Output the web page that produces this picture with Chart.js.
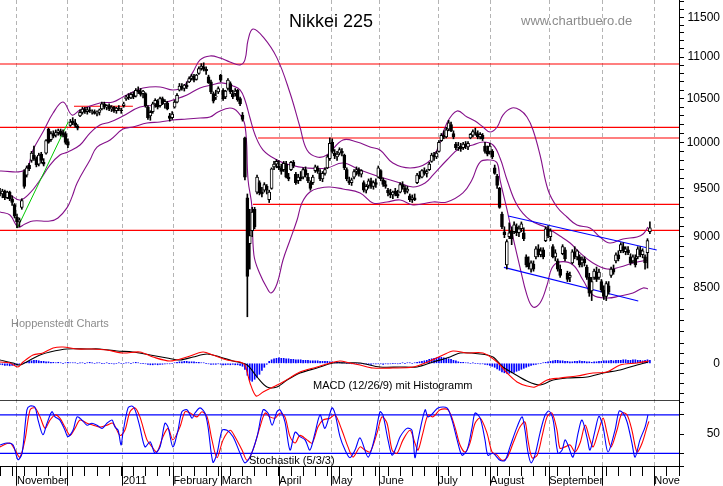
<!DOCTYPE html>
<html>
<head>
<meta charset="utf-8">
<script src="https://cdn.jsdelivr.net/npm/chart.js@4"></script>
<style>
  html, body { margin: 0; padding: 0; background: #fff; }
  canvas { display: block; }
</style>
</head>
<body>
<canvas id="chart" width="723" height="486"></canvas>
<script>
// daily candles, Oct 2010 - Oct 2011 (index = trading day)
const opens = [
  9460,9440,9470,9400,9460,9390,9330,9200,9150,9300,
  9680,9640,9750,9800,9860,9820,9760,9870,9780,9880,
  10150,10030,10100,10080,10110,10130,10110,10100,10010,10190,
  10240,10220,10180,10300,10340,10380,10350,10370,10340,10350,
  10330,10340,10380,10440,10400,10420,10380,10400,10360,10390,
  10370,10420,10500,10520,10510,10550,10530,10600,10580,10560,
  10560,10400,10300,10350,10440,10470,10420,10500,10440,10450,
  10300,10280,10400,10460,10600,10650,10620,10660,10700,10740,
  10770,10730,10800,10860,10880,10850,10760,10700,10560,10520,
  10580,10780,10600,10520,10620,10680,10560,10560,10600,10500,
  10310,10050,9400,8930,9060,9280,9460,9560,9460,9480,
  9520,9380,9500,9730,9760,9740,9720,9700,9760,9620,
  9700,9780,9650,9580,9620,9620,9700,9620,9560,9560,
  9690,9720,9660,9600,9660,9720,9820,10000,9880,9840,
  9880,9900,9860,9700,9580,9560,9620,9680,9700,9650,
  9560,9480,9530,9580,9520,9560,9620,9690,9590,9540,
  9480,9450,9430,9470,9440,9460,9540,9500,9470,9420,
  9380,9400,9560,9640,9620,9690,9660,9700,9790,9860,
  9840,9900,10020,10080,10060,10150,10200,10100,9980,9950,
  9960,9940,9980,9950,10050,10080,10110,10100,10060,10080,
  9960,9900,9900,9900,9720,9630,9500,9230,9050,8720,
  9000,9060,9050,9100,9040,9080,9040,8800,8740,8680,
  8730,8800,8880,8820,8870,8960,9080,9000,8900,8800,
  8760,8680,8830,8870,8640,8600,8740,8850,8800,8800,
  8740,8780,8700,8600,8470,8600,8650,8600,8560,8480,
  8420,8520,8620,8680,8760,8820,8860,8900,8850,8870,
  8800,8760,8790,8800,8870,8820,8800,8840,9050
];
const highs = [
  9500,9490,9480,9470,9470,9420,9340,9230,9190,9390,
  9700,9740,9770,9900,9960,9840,9880,9890,9820,10030,
  10160,10120,10130,10140,10150,10150,10140,10120,10040,10260,
  10280,10260,10200,10370,10400,10400,10400,10400,10370,10370,
  10360,10380,10460,10460,10430,10440,10420,10410,10400,10420,
  10390,10460,10540,10560,10570,10580,10620,10640,10620,10600,
  10570,10420,10360,10460,10500,10490,10520,10520,10490,10470,
  10330,10350,10480,10560,10680,10680,10670,10700,10760,10790,
  10790,10790,10880,10920,10930,10880,10780,10720,10580,10600,
  10640,10790,10620,10600,10740,10700,10600,10620,10610,10520,
  10340,10060,9440,9280,9300,9300,9640,9580,9510,9560,
  9540,9480,9720,9790,9810,9800,9760,9790,9790,9660,
  9790,9800,9670,9650,9680,9720,9730,9660,9580,9640,
  9750,9740,9700,9680,9720,9860,10050,10040,9920,9900,
  9940,9930,9870,9720,9620,9610,9700,9730,9720,9700,
  9580,9540,9600,9610,9580,9600,9740,9700,9610,9580,
  9500,9490,9470,9500,9480,9560,9570,9530,9520,9440,
  9430,9440,9660,9680,9700,9720,9700,9780,9880,9890,
  9900,10020,10100,10130,10170,10250,10230,10130,10000,10000,
  9990,10000,10010,10010,10100,10140,10160,10130,10110,10100,
  10000,9960,9990,9920,9750,9650,9510,9250,9100,8970,
  9140,9100,9150,9130,9110,9150,9090,8820,8800,8760,
  8760,8900,8920,8890,8890,9100,9110,9080,8920,8870,
  8780,8720,8920,8890,8660,8650,8870,8900,8870,8820,
  8800,8800,8720,8640,8600,8680,8700,8680,8580,8520,
  8560,8560,8700,8720,8840,8860,8940,8940,8900,8900,
  8830,8820,8820,8900,8900,8880,8820,8980,9150
];
const lows = [
  9420,9400,9380,9390,9370,9320,9190,9090,9100,9280,
  9500,9620,9690,9780,9800,9730,9740,9770,9740,9870,
  9990,10010,10050,10060,10080,10070,10060,9980,9940,10180,
  10200,10170,10140,10290,10320,10330,10320,10340,10320,10320,
  10300,10310,10370,10380,10370,10360,10350,10340,10330,10360,
  10330,10400,10480,10490,10500,10500,10520,10560,10530,10510,
  10400,10260,10250,10330,10400,10380,10400,10430,10390,10370,
  10240,10260,10390,10450,10590,10600,10590,10620,10690,10720,
  10700,10720,10790,10840,10830,10790,10680,10560,10450,10490,
  10560,10700,10480,10500,10600,10560,10500,10530,10470,10420,
  10240,9590,8230,8680,9000,9080,9440,9430,9410,9460,
  9440,9350,9490,9700,9720,9700,9650,9680,9610,9580,
  9690,9720,9540,9550,9580,9600,9620,9560,9480,9540,
  9670,9660,9580,9570,9640,9710,9800,9880,9820,9800,
  9860,9850,9700,9580,9540,9530,9600,9640,9630,9620,
  9460,9450,9500,9500,9490,9510,9610,9580,9520,9500,
  9420,9400,9390,9420,9400,9450,9490,9440,9450,9360,
  9350,9370,9550,9600,9610,9640,9620,9690,9780,9800,
  9820,9890,10010,10040,10050,10130,10120,10040,9920,9910,
  9900,9920,9930,9920,10040,10060,10080,10040,10040,10020,
  9880,9850,9870,9820,9650,9500,9290,9080,8990,8680,
  8980,8920,9030,9010,9000,9050,8960,8700,8680,8650,
  8660,8780,8800,8800,8780,8950,8990,8960,8790,8760,
  8660,8600,8820,8760,8560,8560,8730,8780,8770,8700,
  8700,8710,8580,8420,8380,8580,8560,8580,8460,8390,
  8380,8440,8600,8630,8740,8760,8840,8840,8820,8820,
  8720,8740,8700,8780,8800,8790,8680,8690,9030
];
const closes = [
  9440,9470,9400,9460,9390,9350,9210,9150,9170,9370,
  9520,9720,9710,9880,9820,9750,9860,9800,9760,10020,
  10000,10100,10070,10110,10130,10090,10080,10000,9970,10230,
  10220,10190,10160,10340,10380,10350,10370,10360,10350,10330,
  10340,10370,10440,10400,10420,10380,10400,10360,10390,10380,
  10360,10440,10520,10510,10550,10520,10600,10580,10550,10590,
  10420,10280,10340,10440,10480,10400,10500,10450,10470,10380,
  10270,10320,10460,10540,10650,10620,10660,10640,10740,10770,
  10720,10780,10860,10890,10850,10830,10690,10580,10470,10530,
  10620,10720,10500,10590,10720,10580,10520,10590,10490,10440,
  10260,9620,8610,9010,9250,9100,9620,9450,9440,9540,
  9480,9460,9710,9760,9790,9720,9680,9770,9620,9600,
  9780,9740,9560,9620,9600,9700,9640,9580,9500,9620,
  9730,9680,9600,9660,9700,9840,9990,9900,9850,9870,
  9920,9880,9720,9600,9560,9590,9680,9700,9650,9690,
  9480,9520,9580,9520,9560,9540,9720,9600,9540,9520,
  9450,9430,9460,9440,9420,9540,9510,9460,9490,9380,
  9400,9380,9640,9620,9690,9660,9680,9760,9860,9840,
  9880,10000,10080,10060,10140,10220,10130,10060,9940,9960,
  9930,9980,9960,9990,10090,10120,10100,10060,10090,10040,
  9900,9870,9960,9840,9660,9530,9300,9100,9020,8950,
  9040,8980,9120,9040,9080,9130,8980,8720,8700,8740,
  8680,8880,8820,8860,8800,9080,9010,9060,8800,8840,
  8680,8620,8900,8780,8580,8620,8850,8800,8860,8720,
  8770,8740,8600,8450,8560,8660,8580,8650,8480,8420,
  8540,8460,8680,8650,8820,8780,8920,8860,8880,8840,
  8740,8800,8720,8880,8820,8860,8740,8960,9090
];

// Bollinger bands: [day, price]
const bandUpper = [
  [0,9685],[10.3,9696],[13.6,9915],[17.7,10116],[21.9,10333],[26,10461],[29.7,10310],
  [33,10368],[41.2,10450],[46.6,10461],[50.7,10520],[54.8,10580],[59,10627],[66,10639],
  [71.3,10603],[75.5,10639],[79.6,10819],[82.5,10965],[86.6,11014],[90.7,10990],
  [94.8,10940],[99,10904],[101,10965],[102.3,11212],[104.3,11350],[108.5,11250],
  [114.2,10990],[119.6,10567],[123.7,10173],[126.6,9915],[130.7,9838],[134.8,9860],
  [141.4,10027],[147.2,10004],[152.6,9948],[156.7,9915],[162,9772],[169.1,9718],
  [176.1,9772],[180.2,9915],[184.3,10219],[188.5,10357],[192.6,10287],[195.9,10241],
  [199.2,10173],[202.1,10116],[205,10173],[207.4,10310],[211.1,10391],[214.4,10368],
  [217.3,10287],[219.8,10139],[222.7,9860],[226,9482],[229.7,9304],[233.8,9200],
  [237.9,9118],[243.3,9088],[247.4,8997],[251.5,8937],[256.9,8977],[262.7,8997],
  [265.2,9027],[267.2,9098]
];
const bandMid = [
  [0,9451],[4.1,9430],[8.2,9377],[12.4,9451],[16.5,9589],[20.6,9750],[24.7,9860],
  [28,9893],[33,9971],[37.1,10105],[41.2,10195],[45.4,10230],[50.7,10299],[57.7,10403],
  [64.7,10427],[71.3,10485],[77.1,10544],[82.5,10627],[87.4,10663],[91.5,10687],
  [96.1,10651],[99,10603],[101,10485],[103.1,10276],[105.2,10083],[108.5,9915],
  [114.2,9805],[119.6,9750],[126.6,9718],[134.8,9718],[141.4,9772],[148.5,9696],
  [156.7,9621],[163.7,9568],[170.3,9514],[175.3,9557],[178.6,9643],[184.3,9805],
  [189.7,9937],[195,9971],[199.2,10004],[203.3,9971],[206.2,9827],[209.1,9589],
  [213.2,9325],[218.6,9169],[225.6,9088],[230.9,9007],[235.1,8937],[239.2,8838],
  [244.5,8740],[250.3,8681],[255.7,8700],[261,8740],[267.2,8769]
];
const bandLower = [
  [0,9252],[4.1,9221],[7.4,9098],[10.3,9128],[13.6,9159],[20.6,9159],[23.9,9190],
  [27.6,9294],[29.7,9409],[31.8,9557],[37.1,9805],[40,9948],[45.4,10027],[50.7,10150],
  [54.8,10173],[60.6,10219],[66,10230],[71.3,10253],[77.1,10264],[82.5,10276],
  [86.6,10287],[89.9,10345],[94.8,10391],[98.1,10345],[101,10196],[102.3,9589],
  [103.9,9304],[104.7,8818],[107.2,8632],[110.1,8499],[111.8,8452],[114.2,8537],
  [116.7,8769],[119.6,8967],[122.5,9169],[124.5,9346],[127.8,9461],[132,9504],
  [136.1,9514],[141.4,9493],[148.5,9451],[153.8,9346],[159.6,9356],[165,9377],
  [170.3,9325],[178.6,9356],[184.3,9356],[190.9,9451],[194.6,9589],[198,9783],
  [202.1,9805],[205,9772],[206.2,9589],[209.1,9273],[211.5,8997],[214.4,8700],
  [217.3,8432],[219.8,8320],[222.7,8357],[225.6,8527],[227.6,8690],[230.9,8750],
  [236.3,8720],[240.4,8575],[244.5,8432],[250.3,8404],[255.7,8423],[261,8452],
  [265.2,8499],[267.2,8490]
];

// support / resistance lines: [fromDay, toDay, price]
const redLevels = [
  [0, 280, 10915], [0, 280, 10169], [106.4, 280, 10049],
  [104.3, 280, 9331], [0, 280, 9064], [30.5, 54.8, 10412]
];
const channelTop = [[209.6, 9210], [270.8, 8867]];
const channelBottom = [[207.8, 8697], [263.2, 8376]];
const greenTrend = [[7.1, 9085], [28.2, 10234]];

// MACD (12/26/9): [day, value]
const macdLine = [
  [0,13],[4.1,3],[7.4,-37],[9.5,13],[13.6,83],[17.7,103],[21.9,153],[26,163],[31.8,143],
  [38.4,143],[44.1,133],[50.7,103],[57.7,113],[63.1,63],[70.1,23],[77.1,63],[83.7,113],
  [87.8,83],[93.6,33],[99,13],[101,-17],[103.1,-197],[105.6,-327],[108.5,-287],
  [112.6,-237],[116.7,-187],[123.7,-87],[130.7,-37],[136.1,3],[140.2,23],[144.3,3],
  [148.5,-17],[153.8,-47],[162,-47],[170.3,-37],[177.3,23],[182.7,83],[186.8,123],
  [192.6,103],[199.2,103],[205,13],[209.1,-97],[213.2,-187],[217.3,-227],[220.6,-237],
  [225.6,-167],[230.9,-147],[237.9,-127],[244.5,-97],[250.3,-87],[255.7,-17],
  [262.7,3],[267.6,23]
];
const macdSignal = [
  [0,33],[5.4,3],[8.2,-17],[12.4,33],[16.5,83],[20.6,113],[27.6,143],[35.9,143],
  [41.2,143],[48.2,123],[54.8,113],[61.9,83],[68.9,53],[74.2,33],[79.6,63],[85.4,93],
  [90.7,63],[96.1,23],[101.9,-17],[106,-137],[110.1,-237],[114.2,-237],[118.4,-167],
  [123.7,-97],[130.7,-47],[137.3,3],[143.1,3],[148.5,3],[156.7,-37],[165,-37],[172,-37],
  [178.6,13],[185.6,63],[189.7,103],[198,93],[203.3,63],[207.4,-37],[211.5,-97],
  [217.3,-177],[222.7,-217],[228.1,-167],[233.8,-147],[242.1,-137],[248.7,-97],
  [255.7,-67],[262.7,-17],[267.2,13]
];
const macdHist = [
  -10,-15,-20,-20,-25,-20,-20,-15,-10,-5,
  5,10,20,25,30,30,25,20,20,15,
  15,10,10,5,10,5,0,5,10,5,
  5,5,0,5,5,0,5,10,5,0,
  5,5,0,0,5,0,0,-5,0,5,
  0,0,5,5,0,5,10,5,0,0,
  -5,-10,-15,-15,-10,-15,-10,-10,-5,-5,
  -5,0,5,10,15,15,20,20,15,15,
  15,10,10,5,5,0,-5,-10,-10,-10,
  -5,-10,-15,-15,-10,-15,-10,-15,-15,-20,
  -30,-60,-120,-170,-180,-160,-140,-110,-70,-40,
  -10,20,35,45,50,55,50,50,45,45,
  40,40,35,35,35,30,30,30,25,25,
  25,25,20,20,20,20,15,15,10,10,
  10,5,5,0,0,-5,0,-5,-5,0,
  -5,-5,-10,-10,-5,-5,-5,-5,-10,-5,
  -5,-5,0,0,-5,0,5,0,5,5,
  0,5,10,15,20,25,30,40,45,50,
  55,60,60,55,50,45,40,30,25,15,
  10,10,5,5,0,5,0,0,-5,-5,
  -10,-15,-20,-30,-40,-55,-70,-85,-95,-100,
  -100,-95,-90,-80,-70,-60,-50,-40,-30,-20,
  -15,-10,-5,0,5,10,15,20,25,30,
  30,25,25,20,20,15,15,20,20,25,
  20,20,15,15,10,15,15,20,20,25,
  25,25,30,25,30,30,30,35,35,30,
  30,35,35,30,30,25,30,35,30
];

// Stochastik (5/3/3): [day, value]
const stochK = [
  [0,33],[2.9,36],[5.4,33],[7.4,10],[9.1,20],[11.1,88],[12.4,94],[14.4,92],[15.7,72],
  [17.7,49],[19.4,67],[21.4,85],[22.7,77],[24.7,72],[26.8,56],[28,46],[30.1,56],[31.8,77],
  [33.8,72],[35.9,64],[37.9,67],[40,64],[42.1,59],[44.1,67],[46.2,72],[47.4,61],[48.7,56],
  [49.9,33],[50.7,52],[52.8,91],[54.4,94],[55.7,88],[57.7,61],[59.8,30],[61.9,38],[63.9,20],
  [66,30],[68,67],[69.3,61],[71.3,30],[73.4,56],[75,85],[77.1,88],[79.2,75],[80.4,83],
  [82.5,91],[84.5,83],[85.8,61],[87.8,6],[89.5,20],[91.6,56],[93.6,56],[96.1,46],[99,20],
  [101,5],[103.1,14],[106,46],[108.5,88],[110.5,83],[112.2,64],[114.2,85],[115.5,88],
  [117.5,69],[119.6,25],[121.7,53],[123.7,46],[125.8,41],[127.8,25],[129.9,52],[132,80],
  [134,59],[136.9,91],[138.1,83],[140.2,46],[142.3,25],[144.3,13],[146.4,25],[148.5,44],
  [151.8,14],[154.6,46],[156.7,85],[157.9,80],[160,41],[161.7,17],[163.7,33],[165,46],
  [167.8,59],[169.9,56],[171.1,13],[172.4,41],[175.3,88],[176.5,77],[178.6,83],[180.6,91],
  [184.3,91],[186.4,72],[188.5,41],[190.5,17],[192.6,25],[194.7,61],[195.9,83],[198,75],
  [200,41],[201.2,17],[203.3,20],[206.2,9],[208.3,9],[210.3,30],[213.2,61],[215.3,77],
  [216.5,56],[217.7,22],[219,5],[220.6,17],[222.7,52],[224.8,80],[226.4,86],[228.1,72],
  [230.1,20],[231.8,25],[233,41],[234.2,33],[236.3,14],[238.4,52],[240,72],[242.1,44],
  [243.3,25],[245.4,56],[247,78],[248.7,61],[250.7,22],[253.6,56],[255.3,86],[256.9,83],
  [258.6,69],[260.6,36],[261.9,14],[263.9,41],[266,61],[267.2,80]
];
const stochD = [
  [0,30],[4.1,36],[6.2,25],[8.2,14],[10.3,41],[12.4,88],[14.4,91],[16.5,77],[18.6,59],
  [20.6,72],[22.7,80],[24.7,75],[26.8,61],[28.9,48],[30.9,59],[33,72],[35.9,67],[38.4,64],
  [41.2,61],[44.1,64],[46.6,67],[49.5,48],[51.5,56],[53.6,85],[55.7,91],[57.7,77],[60.6,41],
  [62.7,30],[64.7,22],[67.2,46],[69.3,59],[71.3,41],[74.2,61],[76.3,85],[78.4,83],[81.2,77],
  [83.3,85],[85.4,77],[87.4,41],[89.5,13],[92,41],[94.9,56],[96.9,46],[99.8,25],[101.9,9],
  [104.3,25],[107.2,61],[109.3,83],[111.3,77],[113.4,75],[115.5,83],[117.5,77],[119.6,46],
  [121.7,36],[123.7,48],[126.6,41],[128.7,36],[131.1,61],[133.2,72],[136.1,75],[138.2,80],
  [141,56],[143.5,30],[145.6,14],[148.5,30],[150.5,25],[152.6,22],[155.5,52],[157.5,77],
  [159.6,67],[161.7,25],[163.7,20],[166.2,41],[169.1,56],[171.1,36],[172.4,25],[174.4,52],
  [176.5,80],[178.6,77],[181.5,88],[184.8,88],[187.6,61],[189.7,33],[191.8,22],[193.8,36],
  [195.9,67],[198,75],[200.8,52],[202.9,22],[205,17],[207,9],[209.1,13],[211.6,36],
  [214.4,61],[216.5,69],[217.7,41],[219.4,13],[221.5,17],[223.5,46],[225.6,77],[227.6,83],
  [229.7,56],[230.9,28],[233,30],[235.1,33],[237.1,22],[239.2,36],[241.3,64],[243.3,41],
  [244.6,30],[246.6,52],[248.7,75],[250.3,52],[252,30],[254.4,56],[256.5,83],[258.6,80],
  [260.6,56],[262.7,22],[264.8,36],[266.8,61],[267.6,70]
];
const stochLevels = [80, 20];

// axis ticks
const monthDays = [7, 28, 50.7, 71.5, 91.4, 115.2, 136.8, 156.7, 180.7, 202.1, 226.5, 248.4, 269.8];
const monthNames = ['November', '', '2011', 'February', 'March', 'April', 'May', 'June', 'July', 'August', 'September', '', 'Nove'];
const priceTicks = [8100, 8200, 8300, 8400, 8500, 8600, 8700, 8800, 8900, 9000, 9100, 9200, 9300, 9400,
  9500, 9600, 9700, 9800, 9900, 10000, 10100, 10200, 10300, 10400, 10500, 10600, 10700, 10800,
  10900, 11000, 11100, 11200, 11300, 11400, 11500, 11600, 11700];
const priceLabels = [8500, 9000, 9500, 10000, 10500, 11000, 11500];
const macdTicks = [-300, -200, -100, 0, 100, 200];
const stochTicks = [0, 20, 50, 80, 100];

Chart.defaults.font.family = '"Liberation Sans", Arial, sans-serif';
Chart.defaults.color = '#000';

const toXY = arr => arr.map(([x, y]) => ({x, y}));
const days = closes.map((c, i) => i);
const lineDs = (data, color, axis, width, extra) => Object.assign({
  type: 'line', data, yAxisID: axis, borderColor: color, borderWidth: width,
  pointRadius: 0, fill: false, tension: 0
}, extra || {});

const datasets = [
  {
    type: 'bar', label: 'body', yAxisID: 'y', order: 0,
    data: days.map(i => ({x: i, y: [opens[i], closes[i]]})),
    backgroundColor: days.map(i => closes[i] >= opens[i] ? '#ffffff' : '#000000'),
    borderColor: '#000', borderWidth: 1, borderSkipped: false,
    barThickness: 3, grouped: false
  },
  {
    type: 'bar', label: 'wick', yAxisID: 'y', order: 1,
    data: days.map(i => ({x: i, y: [lows[i], highs[i]]})),
    backgroundColor: '#000', barThickness: 1, grouped: false
  },
  lineDs(toXY(bandUpper), '#85108a', 'y', 1.1, {tension: 0.4, order: 3}),
  lineDs(toXY(bandMid), '#85108a', 'y', 1.1, {tension: 0.4, order: 3}),
  lineDs(toXY(bandLower), '#85108a', 'y', 1.1, {tension: 0.4, order: 3}),
  ...redLevels.map(([a, b, p]) => lineDs([{x: a, y: p}, {x: b, y: p}], '#ff0000', 'y', 1.2, {order: 4})),
  lineDs(toXY(channelTop), '#0000ff', 'y', 1.1, {order: 2}),
  lineDs(toXY(channelBottom), '#0000ff', 'y', 1.1, {order: 2}),
  lineDs(toXY(greenTrend), '#00c800', 'y', 1, {order: 2}),
  lineDs(toXY(macdSignal), '#000000', 'm', 1.1, {tension: 0.3, order: 2}),
  lineDs(toXY(macdLine), '#ff0000', 'm', 1.1, {tension: 0.3, order: 1}),
  {
    type: 'bar', label: 'hist', yAxisID: 'm', order: 3,
    data: days.map(i => ({x: i, y: macdHist[i]})),
    backgroundColor: '#0000ff', barThickness: 1, grouped: false
  },
  ...stochLevels.map(v => lineDs([{x: 0, y: v}, {x: 280, y: v}], '#0000ff', 's', 1.3, {order: 4})),
  lineDs([{x: 0, y: 103.4}, {x: 280, y: 103.4}], '#000000', 's', 1.3, {order: 4}),
  lineDs(toXY(stochD), '#ff0000', 's', 1.1, {tension: 0.3, order: 2}),
  lineDs(toXY(stochK), '#0000ff', 's', 1.1, {tension: 0.3, order: 1})
];

const noPad = s => { s.paddingTop = 0; s.paddingBottom = 0; s.paddingLeft = 0; s.paddingRight = 0; };
const rightAxis = (weight, ticksList, labelOk, pad, extra) => Object.assign({
  position: 'right', stack: 'panels', stackWeight: weight,
  afterBuildTicks: s => { s.ticks = ticksList.map(v => ({value: v})); },
  afterFit: s => { s.width = 41; noPad(s); },
  ticks: {
    autoSkip: false, crossAlign: 'far', padding: pad, font: {size: 12},
    callback: v => labelOk(v) ? String(v) : ''
  },
  grid: { drawOnChartArea: false, tickLength: 5, tickColor: '#000' },
  border: { color: '#000', width: 1 }
}, extra);

const textPlugin = {
  id: 'texts',
  afterDraw(chart) {
    const c = chart.ctx;
    c.save();
    c.textBaseline = 'alphabetic';
    c.textAlign = 'left';
    c.fillStyle = '#000';
    c.font = '18px "Liberation Sans", Arial, sans-serif';
    c.fillText('Nikkei 225', 289, 27);
    c.fillStyle = '#8c8c8c';
    c.font = '13px "Liberation Sans", Arial, sans-serif';
    c.fillText('www.chartbuero.de', 521, 25);
    c.font = '11px "Liberation Sans", Arial, sans-serif';
    c.fillText('Hoppenstedt Charts', 11, 327);
    c.fillStyle = '#000';
    c.fillText('MACD (12/26/9) mit Histogramm', 313, 389);
    c.fillText('Stochastik (5/3/3)', 249, 464);
    c.restore();
  }
};

new Chart(document.getElementById('chart'), {
  type: 'bar',
  data: { datasets },
  options: {
    responsive: false,
    animation: false,
    events: [],
    layout: { autoPadding: false, padding: { left: 0, right: 3, top: 0, bottom: 0 } },
    plugins: { legend: { display: false }, tooltip: { enabled: false } },
    scales: {
      x: {
        type: 'linear', position: 'bottom', min: 0, max: 280, offset: false,
        afterBuildTicks: s => { s.ticks = monthDays.map(v => ({value: v})); },
        afterFit: s => { s.height = 19.3; noPad(s); },
        ticks: {
          autoSkip: false, maxRotation: 0, minRotation: 0, align: 'start', padding: -11,
          font: {size: 11}, callback: (v, i) => monthNames[i]
        },
        grid: { offset: false, color: '#b4b4b4', lineWidth: 1, tickColor: '#000', tickLength: 19, tickBorderDash: [] },
        border: { display: true, color: '#000', width: 1, dash: [4, 3] }
      },
      xw: {
        type: 'linear', position: { s: -1 }, min: 0, max: 280, offset: false,
        ticks: { display: false, stepSize: 5 },
        grid: { offset: false, drawOnChartArea: false, tickLength: 9, tickColor: '#000' },
        border: { display: false }
      },
      y: rightAxis(335, priceTicks, v => priceLabels.includes(v), 2,
        { type: 'logarithmic', min: 8064, max: 11724 }),
      m: rightAxis(65, macdTicks, v => v === 0, 29, { type: 'linear', min: -367, max: 283 }),
      s: rightAxis(66.7, stochTicks, v => v === 50, 22.6, { type: 'linear', min: -1, max: 103.4 })
    }
  },
  plugins: [textPlugin]
});
</script>
</body>
</html>
